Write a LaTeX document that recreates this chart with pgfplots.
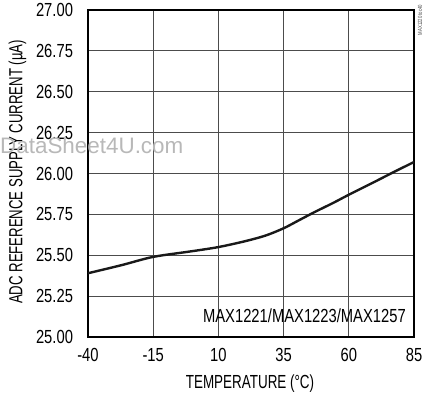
\documentclass[border=0pt]{standalone}
\usepackage{pgfplots}
\pgfplotsset{compat=1.18}
\usepackage{fontspec}
\setmainfont{Liberation Sans}[FakeStretch=0.71]
\newfontfamily\ylabfont{Liberation Sans}[FakeStretch=0.695]
\newfontfamily\digitfont{Liberation Sans}[FakeStretch=0.78]
\newfontfamily\wmfont{Liberation Sans}
\begin{document}
\begin{tikzpicture}
\begin{axis}[
  name=ax,
  scale only axis,
  width=326bp, height=327bp,
  xmin=-40, xmax=85, ymin=25, ymax=27,
  xtick={-40,-15,10,35,60,85},
  xticklabels={-40,-15,10,35,60,85},
  ytick={25,25.25,25.5,25.75,26,26.25,26.5,26.75,27},
  yticklabels={25.00,25.25,25.50,25.75,26.00,26.25,26.50,26.75,27.00},
  major tick length=0pt,
  grid=major,
  major grid style={line width=0.9bp, color=black!70},
  axis line style={line width=2.6bp, black},
  tick label style={font=\digitfont\fontsize{19}{22}\selectfont},
  xticklabel shift=8bp,
  yticklabel shift=11.5bp,
  xlabel={TEMPERATURE (\textdegree C)},
  ylabel={ADC REFERENCE SUPPLY CURRENT (\textmu A)},
  every axis x label/.style={at={(axis description cs:0.497,-0.141)}, anchor=center, font=\fontsize{19}{22}\selectfont},
  every axis y label/.style={at={(axis description cs:-0.216,0.505)}, rotate=90, anchor=center, font=\ylabfont\fontsize{19}{22}\selectfont},
  clip=false,
]
\addplot[line width=2.4bp, black!90, smooth] coordinates {
  (-40,25.39) (-27,25.44) (-15,25.49) (0,25.525) (10,25.55) (20,25.585) (28,25.62) (35,25.665) (41,25.715) (47,25.765) (54,25.82) (60,25.87) (70,25.95) (78,26.015) (85,26.07)
};
\end{axis}
\node[anchor=base west, text=black!28, font=\wmfont\fontsize{22.5}{24}\selectfont, inner sep=0pt]
  at ([xshift=-88bp,yshift=183bp]ax.south west) {DataSheet4U.com};
\node[anchor=east, font=\digitfont\fontsize{19}{22}\selectfont, inner sep=0pt]
  at ([xshift=-8bp,yshift=21bp]ax.south east) {MAX1221/MAX1223/MAX1257};
\node[rotate=90, anchor=center, text=black!70, font=\fontsize{6}{7}\selectfont, inner sep=0pt]
  at ([xshift=6bp,yshift=-10bp]ax.north east) {MAX1220 toc40};
\pgfresetboundingbox
\useasboundingbox ([xshift=-88bp,yshift=-63bp]ax.south west) rectangle ([xshift=10bp,yshift=10bp]ax.north east);
\end{tikzpicture}
\end{document}
